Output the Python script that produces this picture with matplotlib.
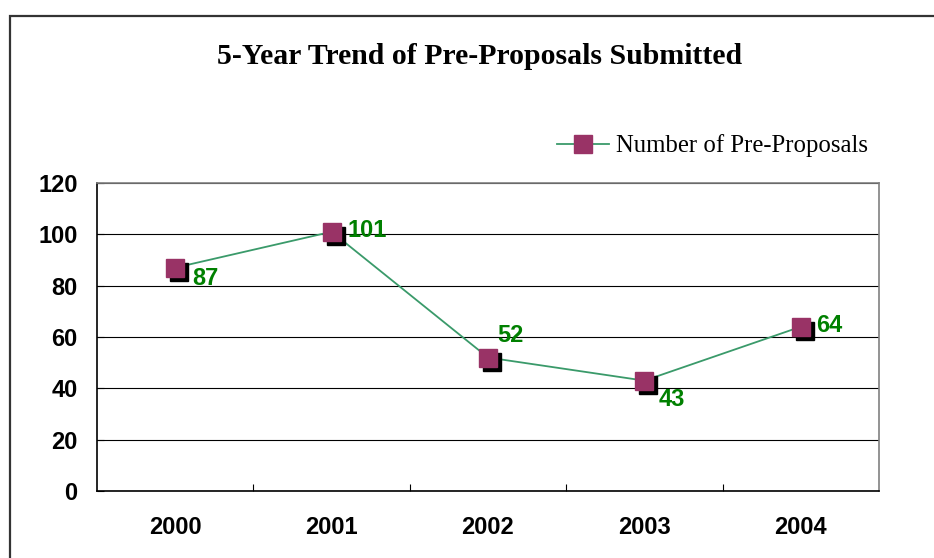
import matplotlib
matplotlib.use('Agg')
import matplotlib.pyplot as plt
import matplotlib.transforms as mtransforms
from matplotlib.patches import Rectangle

# Chart data
years = ['2000', '2001', '2002', '2003', '2004']
pre_proposals = [87, 101, 52, 43, 64]
y_ticks = [0, 20, 40, 60, 80, 100, 120]

# Label offsets in pixels (dx, dy) from each point
label_offsets = [(17, -11), (16, 1), (9, 22), (14, -19), (15, 1)]

fig = plt.figure(figsize=(9.34, 5.58), dpi=100)
ax = fig.add_axes([97 / 934, 1 - 491 / 558, (879 - 97) / 934, (491 - 183) / 558])

# Outer frame of the chart area (runs off the right and bottom edges)
frame = Rectangle((10 / 934, -0.1), 1.2, 1 - 16 / 558 + 0.1, transform=fig.transFigure,
                  fill=False, edgecolor='#333333', linewidth=1.6, clip_on=False)
fig.patches.append(frame)

x = list(range(len(years)))

# Line and markers, plus a black offset square as the shadow
ax.plot(x, pre_proposals, color='#3a9a6a', linewidth=1.3, zorder=3)
shadow = mtransforms.offset_copy(ax.transData, fig=fig, x=4, y=-4, units='dots')
ax.plot(x, pre_proposals, linestyle='none', marker='s', markersize=13,
        color='black', transform=shadow, zorder=4)
ax.plot(x, pre_proposals, linestyle='none', marker='s', markersize=13,
        markerfacecolor='#993366', markeredgecolor='#993366', zorder=5)

# Data labels
for i, v in enumerate(pre_proposals):
    dx, dy = label_offsets[i]
    ax.annotate(str(v), (x[i], v), xytext=(dx, dy), textcoords='offset pixels',
                ha='left', va='center', color='#008000', fontsize=17,
                fontweight='bold', family='Liberation Sans', zorder=6)

# Axes styling
ax.set_xlim(-0.5, len(years) - 0.5)
ax.set_ylim(0, 120)
ax.set_yticks(y_ticks)
ax.set_xticks(x)
ax.set_xticklabels(years)
ax.set_xticks([i + 0.5 for i in range(len(years) - 1)], minor=True)
ax.tick_params(axis='x', which='major', length=0, pad=18)
ax.tick_params(axis='x', which='minor', direction='in', length=5, width=0.8, color='black')
ax.tick_params(axis='y', direction='in', length=5, width=0.8, pad=14)
for lab in ax.get_xticklabels() + ax.get_yticklabels():
    lab.set_fontsize(17)
    lab.set_fontweight('bold')
    lab.set_family('Liberation Sans')

ax.yaxis.grid(True, color='black', linewidth=0.8)
ax.set_axisbelow(True)
ax.spines['left'].set_color('black')
ax.spines['bottom'].set_color('black')
ax.spines['top'].set_color('#808080')
ax.spines['right'].set_color('#808080')
for s in ax.spines.values():
    s.set_linewidth(1.2)

# Title
fig.text(480 / 934, 1 - 56 / 558, '5-Year Trend of Pre-Proposals Submitted',
         ha='center', va='center', fontsize=21.4, fontweight='bold',
         family='Liberation Serif')

# Legend
handle, = ax.plot([], [], color='#3a9a6a', linewidth=1.3, marker='s', markersize=13,
                  markerfacecolor='#993366', markeredgecolor='#993366')
leg = ax.legend([handle], ['Number of Pre-Proposals'], loc='center left',
                bbox_to_anchor=(557 / 934, 1 - 146 / 558), bbox_transform=fig.transFigure,
                frameon=False, numpoints=1, handlelength=2.1, handletextpad=0.3,
                borderpad=0, borderaxespad=0, prop={'family': 'Liberation Serif', 'size': 17.8})

fig.savefig('out.png', dpi=100)
